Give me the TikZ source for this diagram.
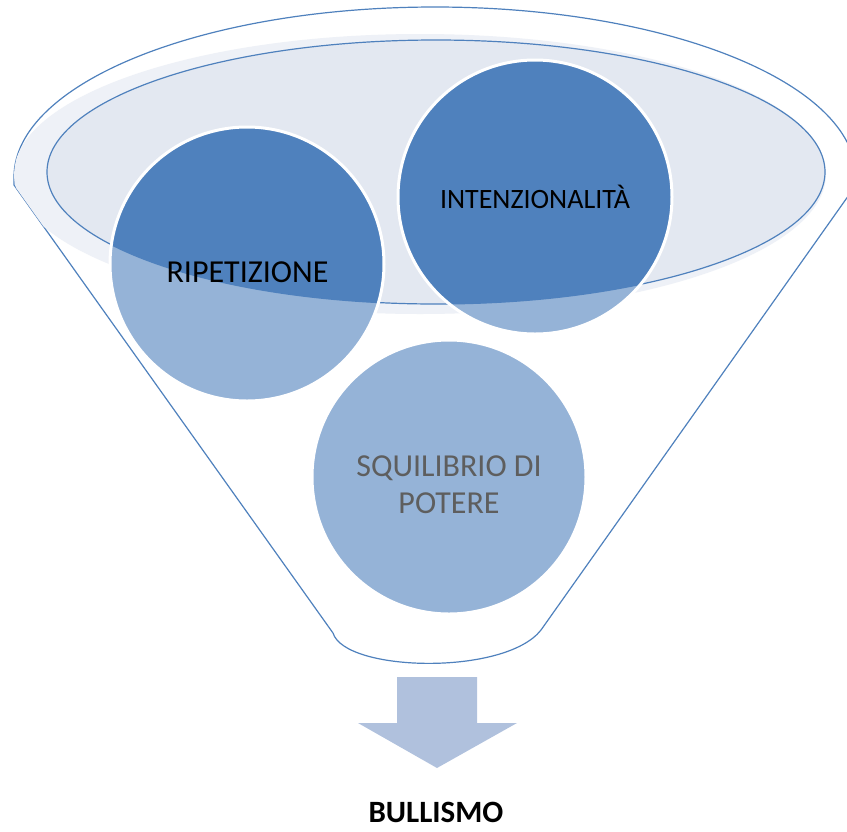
\documentclass[tikz,border=0pt]{standalone}
\usepackage{fontspec}
\setmainfont{Carlito}
\usepackage{tikz}
\definecolor{rim}{HTML}{4F81BD}
\definecolor{deep}{HTML}{4F81BD}
\definecolor{pale}{HTML}{95B3D7}
\definecolor{mouth}{HTML}{E3E8F1}
\definecolor{glow}{HTML}{EEF1F7}
\definecolor{chute}{HTML}{B0C1DD}
\definecolor{greytext}{HTML}{5E5E5E}

\begin{document}
\begin{tikzpicture}[x=1pt,y=1pt]
\tikzstyle{every node}+=[inner sep=0pt]
\tikzstyle{ball}=[draw=white, line width=3pt]
\tikzstyle{label}=[anchor=base, text=black]
\useasboundingbox (0,0) rectangle (847,-831);
% centres
\coordinate (rep) at (247,-264);
\coordinate (int) at (535,-197);
\coordinate (squ) at (449,-477);
% funnel outline
\draw [rim, line width=1.2pt, fill=white] (333,-633) -- (14,-185) -- (14,-177)
  arc [start angle=180, end angle=0, x radius=421, y radius=170]
  -- (856,-185) -- (541,-630)
  .. controls (505,-676) and (345,-672) .. (333,-633);
\begin{scope}
\clip (333,-633) -- (14,-185) -- (14,-177)
  arc [start angle=180, end angle=0, x radius=421, y radius=170]
  -- (856,-185) -- (541,-630) -- cycle;
\fill [glow] (420,-174) ellipse [x radius=406, y radius=140];
\end{scope}
\fill [mouth] (436,-172) ellipse [x radius=389, y radius=132];
% balls
\foreach \c in {rep,int,squ}
  \fill [pale] (\c) circle (137);
\begin{scope}
\clip (436,-172) ellipse [x radius=389, y radius=132];
\foreach \c in {rep,int}
  \fill [deep] (\c) circle (137);
\end{scope}
\draw [rim, line width=1.2pt] (436,-172) ellipse [x radius=389, y radius=132];
\foreach \c in {rep,int,squ}
  \draw [ball] (\c) circle (137);
% texts
\node [label, font=\fontsize{32}{38}\selectfont] (reptext) at (247.5,-282) {RIPETIZIONE};
\node [label, font=\fontsize{28}{33}\selectfont] (inttext) at (535,-208) {INTENZIONALITÀ};
\node [label, text=greytext, align=center, font=\fontsize{32}{37}\selectfont] (squtext) at (449,-513) {SQUILIBRIO DI\\POTERE};
% arrow
\coordinate (chutetop) at (437,-677);
\fill [chute] (chutetop) ++(-40,0) -- ++(80,0) -- ++(0,-46) -- ++(40,0)
  -- (437,-768) -- (358,-723) -- (397,-723) -- cycle;
\node [label, font=\bfseries\fontsize{31}{36}\selectfont] (bul) at (436,-822) {BULLISMO};
\end{tikzpicture}
\end{document}
